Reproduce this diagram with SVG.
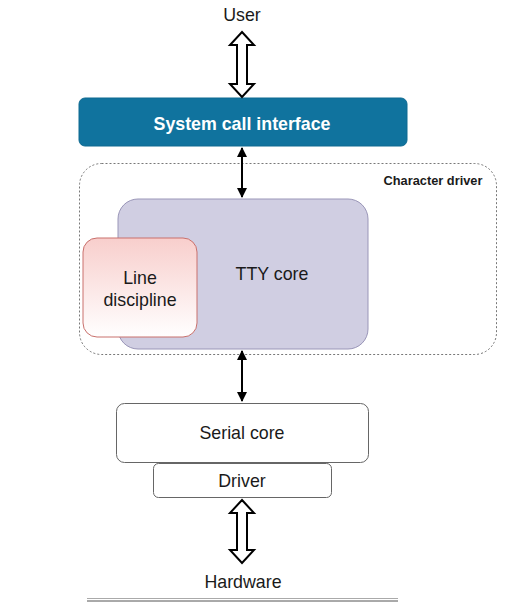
<svg xmlns="http://www.w3.org/2000/svg" width="523" height="610" viewBox="0 0 523 610">
<style>
text{font-family:"Liberation Sans",Arial,sans-serif;fill:#1a1a1a;text-anchor:middle}
.lbl{font-size:17.8px}
.hollow{fill:#fff;stroke:#000;stroke-width:2;stroke-linejoin:miter}
.conn{stroke:#000;stroke-width:2;fill:none}
</style>
<defs>
<marker id="ah" viewBox="0 0 10 10" refX="9" refY="5" markerWidth="5" markerHeight="5" orient="auto-start-reverse" markerUnits="strokeWidth">
<path d="M0,0 L10,5 L0,10 Z" fill="#000"/>
</marker>
<linearGradient id="ldg" x1="0" y1="0" x2="0" y2="1">
<stop offset="0" stop-color="#f8cecc"/>
<stop offset="1" stop-color="#ffffff"/>
</linearGradient>
</defs>
<g id="user"><text class="lbl" x="242" y="21">User</text></g>
<g id="syscall">
<rect x="79" y="98" width="328" height="48" rx="6" fill="#10739e" stroke="#0e6a91"/>
<text x="242" y="130" style="font-size:17.8px;font-weight:bold;fill:#fff">System call interface</text>
</g>
<g id="chardriver">
<rect x="79.5" y="163.5" width="417" height="191" rx="22" fill="none" stroke="#555" stroke-width="0.8" stroke-dasharray="2,2"/>
<text x="433" y="185" style="font-size:12.8px;font-weight:bold">Character driver</text>
</g>
<g id="ttycore">
<rect x="118" y="199" width="250" height="150" rx="20" fill="#d0cee2" stroke="#9a96b8"/>
<text class="lbl" x="272" y="280">TTY core</text>
</g>
<g id="linedisc">
<rect x="83" y="238" width="114" height="99" rx="14" fill="url(#ldg)" stroke="#c9706c"/>
<text class="lbl" x="140" y="284">Line</text>
<text class="lbl" x="140" y="306">discipline</text>
</g>
<g id="serialcore">
<rect x="116.5" y="403.5" width="252" height="59" rx="8" fill="#fff" stroke="#666"/>
<text class="lbl" x="242" y="439">Serial core</text>
</g>
<g id="driver">
<rect x="153.5" y="463.5" width="178" height="34" rx="5" fill="#fff" stroke="#666"/>
<text class="lbl" x="242" y="487">Driver</text>
</g>
<g id="hardware"><text class="lbl" x="243" y="588">Hardware</text></g>
<g id="connectors">
<path class="hollow" d="M242,32 L254,45 L247,45 L247,84 L254,84 L242,97 L230,84 L237,84 L237,45 L230,45 Z"/>
<path class="hollow" d="M242,500 L254,513 L247,513 L247,550 L254,550 L242,563 L230,550 L237,550 L237,513 L230,513 Z"/>
<line class="conn" x1="242" y1="148" x2="242" y2="197" marker-start="url(#ah)" marker-end="url(#ah)"/>
<line class="conn" x1="242" y1="351" x2="242" y2="401" marker-start="url(#ah)" marker-end="url(#ah)"/>
</g>
<g id="ground">
<line x1="87" y1="598.5" x2="398" y2="598.5" stroke="#aaa" stroke-width="1"/>
<line x1="87" y1="601" x2="398" y2="601" stroke="#555" stroke-width="1"/>
</g>
</svg>
